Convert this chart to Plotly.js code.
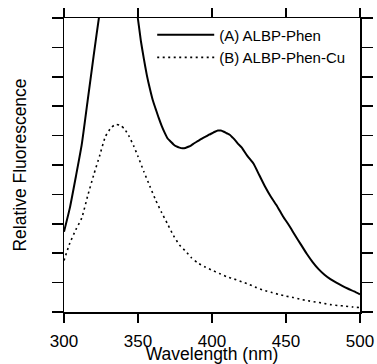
<!DOCTYPE html>
<html>
<head>
<meta charset="utf-8">
<script src="https://cdn.plot.ly/plotly-3.0.1.min.js"></script>
<style>html,body{margin:0;padding:0;background:#fff;}#chart{width:377px;height:364px;}</style>
</head>
<body>
<div id="chart"></div>
<script>
const wavelengthA = [300,304,308,312,316,320,324,328,332,336,340,344,348,350,352,354,356,358,360,362,364,366,368,370,372,374,376,378,380,382,384,386,388,390,392,394,396,398,400,402,404,406,408,410,412,414,416,418,420,424,428,432,436,440,444,448,452,456,460,464,468,472,476,480,484,488,492,496,500];
const fluorA = [2.73,3.55,4.6,5.7,7.2,8.7,10.15,11.4,12.2,12.5,12.3,11.6,10.6,9.95,9.2,8.6,8.05,7.6,7.2,6.9,6.6,6.33,6.1,5.9,5.8,5.7,5.63,5.59,5.57,5.58,5.62,5.67,5.74,5.8,5.86,5.92,5.97,6.03,6.08,6.13,6.17,6.17,6.13,6.08,6.03,5.93,5.82,5.7,5.6,5.3,5.05,4.65,4.25,3.9,3.6,3.25,2.95,2.62,2.3,1.98,1.7,1.46,1.27,1.12,1.0,0.89,0.79,0.7,0.6];
const wavelengthB = [300,304,308,312,316,320,324,328,332,335,338,341,344,347,350,354,358,362,366,370,374,378,382,386,390,395,400,405,410,415,420,425,430,435,440,445,450,455,460,465,470,475,480,485,490,495,500];
const fluorB = [1.75,2.35,2.8,3.2,3.95,4.65,5.3,5.97,6.28,6.38,6.35,6.22,5.97,5.66,5.29,4.77,4.28,3.8,3.38,2.99,2.6,2.28,2.08,1.85,1.68,1.54,1.42,1.31,1.2,1.12,1.03,0.94,0.83,0.74,0.67,0.6,0.54,0.49,0.43,0.38,0.34,0.3,0.25,0.22,0.2,0.17,0.15];
const seriesNames = ['(A) ALBP-Phen', '(B) ALBP-Phen-Cu'];
const xTicks = [300,350,400,450,500];
const yTicks = [0,1,2,3,4,5,6,7,8,9,10];

const font = 'Liberation Sans, Arial, Helvetica, sans-serif';
const traces = [
  {x: wavelengthA, y: fluorA, name: seriesNames[0], mode: 'lines',
   line: {color: '#000', width: 2, shape: 'spline', smoothing: 0.5}},
  {x: wavelengthB, y: fluorB, name: seriesNames[1], mode: 'lines',
   line: {color: '#000', width: 1.6, dash: '2px,3.5px', shape: 'spline', smoothing: 0.5}}
];
const layout = {
  width: 377, height: 364,
  margin: {l: 64, r: 17, t: 18, b: 52},
  paper_bgcolor: '#fff', plot_bgcolor: '#fff',
  font: {family: font, color: '#000'},
  showlegend: true,
  legend: {x: 0.298, y: 0.998, xanchor: 'left', yanchor: 'top', bgcolor: 'rgba(0,0,0,0)',
           font: {size: 15, family: font, color: '#000'}, itemwidth: 57, tracegroupgap: 0},
  xaxis: {range: [300, 500], tickvals: xTicks, ticks: 'outside', ticklen: 9, tickwidth: 1.5,
          tickcolor: '#000', showline: true, linewidth: 1.5, linecolor: '#000', mirror: 'ticks',
          showgrid: false, zeroline: false, tickfont: {size: 17, family: font}, ticklabelstandoff: 4,
          title: {text: 'Wavelength (nm)', font: {size: 17.5, family: font}, standoff: 0}},
  yaxis: {range: [0, 10], tickvals: yTicks, ticks: 'outside', ticklen: 11, tickwidth: 1.5,
          tickcolor: '#000', showline: true, linewidth: 1.5, linecolor: '#000', mirror: 'ticks',
          showgrid: false, zeroline: false, showticklabels: false,
          title: {text: 'Relative Fluorescence', font: {size: 17.5, family: font}, standoff: 20}}
};
Plotly.newPlot('chart', traces, layout, {displayModeBar: false, staticPlot: true});
</script>
</body>
</html>
